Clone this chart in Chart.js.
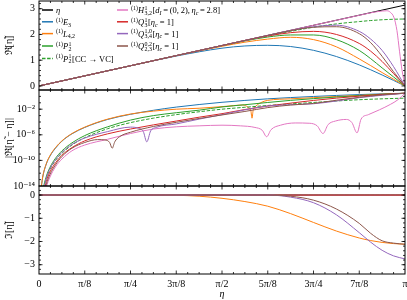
<!DOCTYPE html>
<html><head><meta charset="utf-8">
<script src="https://cdn.jsdelivr.net/npm/chart.js@4.4.1/dist/chart.umd.min.js"></script>
<style>
html,body{margin:0;padding:0;background:#fff;}
#wrap{position:relative;width:407px;height:300px;overflow:hidden;background:#fff;}
#wrap canvas{position:absolute;left:0;top:0;}
</style></head><body>
<div id="wrap">
<canvas id="c1" width="407" height="300"></canvas>
<canvas id="c2" width="407" height="300"></canvas>
<canvas id="c3" width="407" height="300"></canvas>
</div>
<script>
// ---------- x axis (η in units of π) ----------
const xTickValues = [0, 0.125, 0.25, 0.375, 0.5, 0.625, 0.75, 0.875, 1];
const xTickLabels = ['0', 'π/8', 'π/4', '3π/8', 'π/2', '5π/8', '3π/4', '7π/8', 'π'];

// ---------- panel 1 : Re[eta~] ----------
const reExactEta = [0, 1];
const reExact = [0, 3.1416];
const reGrid = [0, 0.125, 0.25, 0.375, 0.5, 0.5625, 0.625, 0.6875, 0.75, 0.8125, 0.875, 0.90625, 0.9375, 0.96875, 1];
const reE3    = [0, 0.393, 0.784, 1.161, 1.467, 1.553, 1.579, 1.531, 1.384, 1.143, 0.817, 0.628, 0.426, 0.215, 0];
const reL42   = [0, 0.393, 0.785, 1.175, 1.54, 1.70, 1.82, 1.89, 1.80, 1.52, 1.05, 0.79, 0.52, 0.26, 0];
const reP12   = [0, 0.393, 0.785, 1.178, 1.565, 1.75, 1.90, 1.98, 1.98, 1.80, 1.38, 1.06, 0.70, 0.35, 0];
const reP12cc = [0, 0.393, 0.785, 1.178, 1.568, 1.76, 1.94, 2.12, 2.28, 2.41, 2.50, 2.54, 2.57, 2.59, 2.60];
const reQ13   = [0, 0.393, 0.785, 1.178, 1.5705, 1.765, 1.94, 2.07, 2.12, 2.0, 1.65, 1.35, 0.95, 0.48, 0];
const reQ1034 = [0, 0.393, 0.785, 1.178, 1.571, 1.767, 1.963, 2.155, 2.30, 2.36, 2.12, 1.82, 1.38, 0.75, 0];
const reQ0223 = [0, 0.393, 0.785, 1.178, 1.571, 1.767, 1.963, 2.15, 2.28, 2.30, 2.03, 1.68, 1.15, 0.55, 0];
const reHGrid = [0, 0.5, 0.75, 0.875, 0.90625, 0.9375, 0.95, 0.96, 0.97, 0.978, 0.985, 0.992, 1];
const reH     = [0, 1.571, 2.356, 2.745, 2.84, 2.91, 2.92, 2.86, 2.65, 2.15, 1.35, 0.6, 0];

// ---------- panel 2 : log10 |Re[eta~ - eta]| ----------
const errGrid = [0.005, 0.01, 0.02, 0.03, 0.045, 0.0625, 0.09, 0.125, 0.1875, 0.25, 0.3125, 0.375, 0.4375, 0.5, 0.5625, 0.625, 0.6875, 0.75, 0.8125, 0.875, 0.9375, 1];
const logErrE3    = [-14.78, -12.67, -10.56, -9.33, -8.09, -7.0, -5.85, -4.85, -3.6, -2.8, -2.17, -1.67, -1.27, -0.92, -0.63, -0.38, -0.18, -0.01, 0.15, 0.286, 0.40, 0.497];
const logErrP12   = [-17.3, -14.9, -12.5, -11.08, -9.67, -8.52, -7.26, -6.12, -4.75, -3.7, -3.0, -2.55, -2.15, -1.65, -1.3, -0.95, -0.62, -0.35, -0.1, 0.12, 0.33, 0.497];
const logErrP12cc = [-17.6, -15.2, -12.8, -11.4, -10.0, -8.9, -7.6, -6.45, -5.05, -4.1, -3.4, -2.85, -2.4, -2.0, -1.7, -1.42, -1.18, -0.95, -0.72, -0.52, -0.38, -0.27];
const logErrQ13   = [-18.5, -16, -13.3, -11.8, -10.4, -9.2, -8.0, -6.95, -5.85, -5.1, -4.45, -3.85, -3.25, -2.7, -2.05, -1.5, -1.05, -0.63, -0.27, 0.04, 0.30, 0.497];
const errL42Grid = [0.005, 0.01, 0.02, 0.03, 0.045, 0.0625, 0.09, 0.125, 0.1875, 0.25, 0.3125, 0.375, 0.4375, 0.5, 0.54, 0.557, 0.571, 0.579, 0.582, 0.585, 0.593, 0.609, 0.625, 0.6875, 0.75, 0.8125, 0.875, 0.9375, 1];
const logErrL42  = [-14.7, -12.6, -10.5, -9.25, -8.0, -6.95, -5.8, -4.8, -3.55, -2.75, -2.3, -2.0, -1.85, -1.6, -1.4, -1.34, -1.7, -2.3, -3.4, -2.2, -1.5, -0.9, -0.62, -0.38, -0.2, -0.02, 0.16, 0.35, 0.497];
const errQ1034Grid = [0.005, 0.01, 0.02, 0.03, 0.045, 0.0625, 0.09, 0.125, 0.1875, 0.25, 0.27, 0.285, 0.2945, 0.305, 0.32, 0.375, 0.4375, 0.5, 0.5625, 0.625, 0.6875, 0.75, 0.8125, 0.875, 0.9375, 1];
const logErrQ1034  = [-18, -15.5, -12.8, -11.3, -9.9, -8.75, -7.5, -6.5, -5.5, -4.8, -4.95, -5.5, -7.1, -5.4, -4.85, -4.3, -3.55, -2.85, -2.1, -1.5, -1.3, -1.15, -0.72, -0.2, 0.17, 0.497];
const errQ0223Grid = [0.005, 0.01, 0.02, 0.03, 0.045, 0.0625, 0.09, 0.125, 0.16, 0.18, 0.193, 0.2, 0.207, 0.22, 0.25, 0.3125, 0.375, 0.4375, 0.5, 0.5625, 0.625, 0.6875, 0.75, 0.8125, 0.875, 0.9375, 1];
const logErrQ0223  = [-19, -16.5, -13.8, -12.2, -10.7, -9.4, -8.1, -7.2, -6.75, -6.8, -7.2, -8.1, -7.1, -6.3, -5.6, -4.7, -4.05, -3.45, -2.9, -2.35, -1.75, -1.35, -1.1, -0.6, -0.14, 0.24, 0.497];
const errHGrid = [0.005, 0.01, 0.02, 0.03, 0.045, 0.0625, 0.09, 0.125, 0.1875, 0.25, 0.3125, 0.375, 0.4375, 0.5, 0.55, 0.59, 0.61, 0.622, 0.634, 0.66, 0.7, 0.74, 0.76, 0.776, 0.79, 0.81, 0.84, 0.855, 0.869, 0.88, 0.9, 0.93, 0.96, 0.98, 1];
const logErrH  = [-20, -17, -14.2, -12.6, -11.0, -9.8, -8.5, -7.6, -6.7, -5.8, -5.1, -4.75, -4.6, -4.5, -4.6, -4.85, -5.3, -6.3, -5.2, -4.5, -4.15, -4.2, -4.6, -5.8, -4.4, -3.85, -3.6, -4.1, -5.7, -3.55, -2.85, -2.1, -1.25, -0.55, 0.497];

// ---------- panel 3 : Im[eta~] ----------
const imZeroEta = [0, 1];
const imZero = [0, 0];
const imGrid = [0, 0.3125, 0.375, 0.4375, 0.5, 0.5625, 0.625, 0.6875, 0.75, 0.8125, 0.875, 0.90625, 0.9375, 0.96875, 1];
const imL42   = [0, 0, -0.01, -0.05, -0.14, -0.28, -0.48, -0.80, -1.18, -1.55, -1.85, -1.96, -2.04, -2.09, -2.12];
const imQ1034 = [0, 0, 0, 0, 0, 0, 0, -0.09, -0.33, -0.85, -1.62, -2.03, -2.38, -2.62, -2.75];
const imQ0223 = [0, 0, 0, 0, 0, 0, 0, -0.05, -0.22, -0.60, -1.22, -1.65, -1.97, -2.07, -2.12];

// ---------- tick labels ----------
const reTicks = [0, 1, 2, 3];
const reTickLabels = ['0', '1', '2', '3'];
const errTicks = [1e-14, 1e-10, 1e-6, 1e-2];
const errTickLabels = ['10⁻¹⁴', '10⁻¹⁰', '10⁻⁶', '10⁻²'];
const imTicks = [-3, -2, -1, 0];
const imTickLabels = ['−3', '−2', '−1', '0'];

// ---------- styles ----------
const FONT = "'Liberation Serif', 'DejaVu Serif', serif";
const S = {
  eta:   {color: '#000000'},
  E3:    {color: '#1f77b4'},
  L42:   {color: '#ff7f0e'},
  P12:   {color: '#2ca02c'},
  P12cc: {color: '#2ca02c', dash: [3.5, 1.6]},
  H:     {color: '#e377c2'},
  Q13:   {color: '#d62728'},
  Q1034: {color: '#9467bd'},
  Q0223: {color: '#8c564b'}
};
const ORDER = ['eta', 'E3', 'L42', 'P12', 'P12cc', 'H', 'Q13', 'Q1034', 'Q0223'];

const TS = '\u2009';
const legendEntries = [
  {k: 'eta',   segs: [{t: 'η', it: 1}]},
  {k: 'E3',    segs: [{t: '(1)', sup: 1}, {t: 'E', it: 1}, {t: '3', sub: 1}]},
  {k: 'L42',   segs: [{t: '(1)', sup: 1}, {t: 'L', it: 1}, {t: '4,2', sub: 1}]},
  {k: 'P12',   segs: [{t: '(1)', sup: 1}, {t: 'P', it: 1}, {ss: ['1', '2']}]},
  {k: 'P12cc', segs: [{t: '(1)', sup: 1}, {t: 'P', it: 1}, {ss: ['1', '2']}, {t: '[CC → VC]'}]},
  {k: 'H',     segs: [{t: '(1)', sup: 1}, {t: 'H', it: 1}, {ss: ['1', '3,2']}, {t: '['}, {t: 'd', it: 1}, {t: 'I', sub: 1, it: 1}, {t: TS + '=' + TS + '(0,' + TS + '2),' + TS}, {t: 'η', it: 1}, {t: 'c', sub: 1, it: 1}, {t: TS + '=' + TS + '2.8]'}]},
  {k: 'Q13',   segs: [{t: '(1)', sup: 1}, {t: 'Q', it: 1}, {ss: ['1', '3']}, {t: '['}, {t: 'η', it: 1}, {t: 'c', sub: 1, it: 1}, {t: ' = 1]'}]},
  {k: 'Q1034', segs: [{t: '(1)', sup: 1}, {t: 'Q', it: 1}, {ss: ['1,0', '3,4']}, {t: '['}, {t: 'η', it: 1}, {t: 'c', sub: 1, it: 1}, {t: ' = 1]'}]},
  {k: 'Q0223', segs: [{t: '(1)', sup: 1}, {t: 'Q', it: 1}, {ss: ['0,2', '2,3']}, {t: '['}, {t: 'η', it: 1}, {t: 'c', sub: 1, it: 1}, {t: ' = 1]'}]}
];

// ---------- helpers ----------
function pts(xs, ys, conv) {
  return xs.map((x, i) => ({x: x, y: conv ? Math.pow(10, ys[i]) : ys[i]}));
}
function ds(key, data) {
  const st = S[key];
  const idx = ORDER.indexOf(key);
  return {
    label: key, data: data, borderColor: st.color, backgroundColor: st.color,
    borderWidth: 1, borderDash: st.dash || [], pointRadius: 0, fill: false,
    cubicInterpolationMode: 'monotone', order: 20 - idx
  };
}
const xMinor = [];
for (let i = 1; i < 32; i++) if (i % 4) xMinor.push(i / 32);
const xMajorInner = xTickValues.slice(1, -1);

const framePlugin = {
  id: 'frame',
  afterDatasetsDraw(chart, args, o) {
    const {ctx, chartArea: a} = chart;
    const xs = chart.scales.x, ys = chart.scales.y;
    ctx.save();
    ctx.strokeStyle = '#000';
    ctx.lineWidth = 0.8;
    ctx.beginPath();
    const seg = (x1, y1, x2, y2) => { ctx.moveTo(x1, y1); ctx.lineTo(x2, y2); };
    xMajorInner.forEach(v => { const p = xs.getPixelForValue(v); seg(p, a.bottom, p, a.bottom - 3.5); seg(p, a.top, p, a.top + 3.5); });
    xMinor.forEach(v => { const p = xs.getPixelForValue(v); seg(p, a.bottom, p, a.bottom - 2); seg(p, a.top, p, a.top + 2); });
    (o.yMajor || []).forEach(v => { const p = ys.getPixelForValue(v); if (p > a.top + 0.5 && p < a.bottom - 0.5) { seg(a.left, p, a.left + 3.5, p); seg(a.right, p, a.right - 3.5, p); } });
    (o.yMinor || []).forEach(v => { const p = ys.getPixelForValue(v); if (p > a.top + 0.5 && p < a.bottom - 0.5) { seg(a.left, p, a.left + 2, p); seg(a.right, p, a.right - 2, p); } });
    ctx.stroke();
    ctx.lineWidth = 1;
    ctx.strokeRect(a.left, a.top, a.right - a.left, a.bottom - a.top);
    ctx.restore();
  }
};

function drawRich(ctx, x, y, segs, size) {
  ctx.textBaseline = 'alphabetic';
  ctx.textAlign = 'left';
  for (const s of segs) {
    if (s.ss) {
      const f = size * 0.7;
      ctx.font = `${f}px ${FONT}`;
      const w1 = ctx.measureText(s.ss[0]).width, w2 = ctx.measureText(s.ss[1]).width;
      ctx.fillText(s.ss[0], x + 0.5, y - size * 0.38);
      ctx.fillText(s.ss[1], x + 0.5, y + size * 0.22);
      x += Math.max(w1, w2) + 1;
      continue;
    }
    let fs = size, dy = 0;
    if (s.sup) { fs = size * 0.7; dy = -size * 0.38; }
    if (s.sub) { fs = size * 0.7; dy = size * 0.22; }
    ctx.font = `${s.it ? 'italic ' : ''}${fs}px ${FONT}`;
    ctx.fillText(s.t, x, y + dy);
    x += ctx.measureText(s.t).width;
  }
}

const legendPlugin = {
  id: 'richLegend',
  afterDatasetsDraw(chart, args, o) {
    if (!o || !o.show) return;
    const ctx = chart.ctx;
    ctx.save();
    ctx.fillStyle = '#000';
    const rows = [10, 21.8, 33.6, 46, 58.6];
    legendEntries.forEach((e, i) => {
      const col = i < 5 ? 0 : 1;
      const r = col ? i - 5 : i;
      const hx = col ? 117 : 42;
      const y = rows[r];
      const st = S[e.k];
      ctx.strokeStyle = st.color;
      ctx.lineWidth = 1.5;
      ctx.setLineDash(st.dash || []);
      ctx.beginPath(); ctx.moveTo(hx, y); ctx.lineTo(hx + 11, y); ctx.stroke();
      ctx.setLineDash([]);
      ctx.fillStyle = '#000';
      drawRich(ctx, hx + 14, y + 3, e.segs, 8.5);
    });
    ctx.restore();
  }
};

function panel(id, c) {
  return new Chart(document.getElementById(id), {
    type: 'line',
    data: {datasets: c.datasets},
    options: {
      responsive: false, animation: false, events: [],
      layout: {padding: {top: c.padTop, bottom: c.padBottom, left: 0, right: 2}},
      plugins: {
        legend: {display: false}, tooltip: {enabled: false},
        frame: {yMajor: c.yTicks, yMinor: c.yMinor},
        richLegend: {show: !!c.legend}
      },
      scales: {
        x: {
          type: 'linear', min: 0, max: 1, display: !!c.showX,
          afterBuildTicks: s => { s.ticks = xTickValues.map(v => ({value: v})); },
          afterFit: s => { s.height = c.showX ? 26 : 0; s.paddingLeft = 0; s.paddingRight = 0; },
          ticks: {autoSkip: false, maxRotation: 0, padding: 4, color: '#000',
                  font: {family: FONT, size: 10},
                  callback: (v) => { const i = xTickValues.indexOf(v); return i >= 0 ? xTickLabels[i] : ''; }},
          grid: {display: false, drawTicks: false}, border: {display: false},
          title: {display: !!c.showX, text: 'η', color: '#000', font: {family: FONT, size: 10, style: 'italic'}, padding: 0}
        },
        y: {
          type: c.yType, min: c.yMin, max: c.yMax,
          afterBuildTicks: s => { s.ticks = c.yTicks.map(v => ({value: v})); },
          afterFit: s => { s.width = 39; s.paddingTop = 0; s.paddingBottom = 0; },
          ticks: {autoSkip: false, padding: 4, color: '#000', font: {family: FONT, size: 10},
                  callback: (v) => { const i = c.yTicks.indexOf(v); return i >= 0 ? c.yTickLabels[i] : ''; }},
          grid: {display: false, drawTicks: false}, border: {display: false},
          title: {display: true, text: c.yTitle, color: '#000', font: {family: FONT, size: 10}, padding: {top: 3, bottom: 0}}
        }
      }
    },
    plugins: [framePlugin, legendPlugin]
  });
}

// minor tick positions
const reMinor = []; for (let v = 0.2; v < 3.3; v += 0.2) reMinor.push(+v.toFixed(2));
const imMinor = []; for (let v = -3.4; v < 0.4; v += 0.2) imMinor.push(+v.toFixed(2));
const errMinor = []; for (let e = -14; e <= 1; e++) errMinor.push(Math.pow(10, e));

panel('c1', {
  padTop: 1, padBottom: 210, yType: 'linear', yMin: -0.157, yMax: 3.299,
  yTicks: reTicks, yTickLabels: reTickLabels, yMinor: reMinor, yTitle: 'ℜ[η\u0303]', legend: true,
  datasets: [
    ds('eta', pts(reExactEta, reExact)),
    ds('E3', pts(reGrid, reE3)),
    ds('L42', pts(reGrid, reL42)),
    ds('P12', pts(reGrid, reP12)),
    ds('P12cc', pts(reGrid, reP12cc)),
    ds('H', pts(reHGrid, reH)),
    ds('Q13', pts(reGrid, reQ13)),
    ds('Q1034', pts(reGrid, reQ1034)),
    ds('Q0223', pts(reGrid, reQ0223))
  ]
});

panel('c2', {
  padTop: 90, padBottom: 114, yType: 'logarithmic', yMin: 1e-14, yMax: 10,
  yTicks: errTicks, yTickLabels: errTickLabels, yMinor: errMinor, yTitle: '|ℜ[η\u0303 − η]|',
  datasets: [
    ds('E3', pts(errGrid, logErrE3, true)),
    ds('L42', pts(errL42Grid, logErrL42, true)),
    ds('P12', pts(errGrid, logErrP12, true)),
    ds('P12cc', pts(errGrid, logErrP12cc, true)),
    ds('H', pts(errHGrid, logErrH, true)),
    ds('Q13', pts(errGrid, logErrQ13, true)),
    ds('Q1034', pts(errQ1034Grid, logErrQ1034, true)),
    ds('Q0223', pts(errQ0223Grid, logErrQ0223, true))
  ]
});

panel('c3', {
  padTop: 186, padBottom: 0, yType: 'linear', yMin: -3.4, yMax: 0.39, showX: true,
  yTicks: imTicks, yTickLabels: imTickLabels, yMinor: imMinor, yTitle: 'ℑ[η\u0303]',
  datasets: [
    ds('eta', pts(imZeroEta, imZero)),
    ds('E3', pts(imZeroEta, imZero)),
    ds('L42', pts(imGrid, imL42)),
    ds('P12', pts(imZeroEta, imZero)),
    ds('P12cc', pts(imZeroEta, imZero)),
    ds('H', pts(imZeroEta, imZero)),
    ds('Q13', pts(imZeroEta, imZero)),
    ds('Q1034', pts(imGrid, imQ1034)),
    ds('Q0223', pts(imGrid, imQ0223))
  ]
});
</script>
</body></html>
